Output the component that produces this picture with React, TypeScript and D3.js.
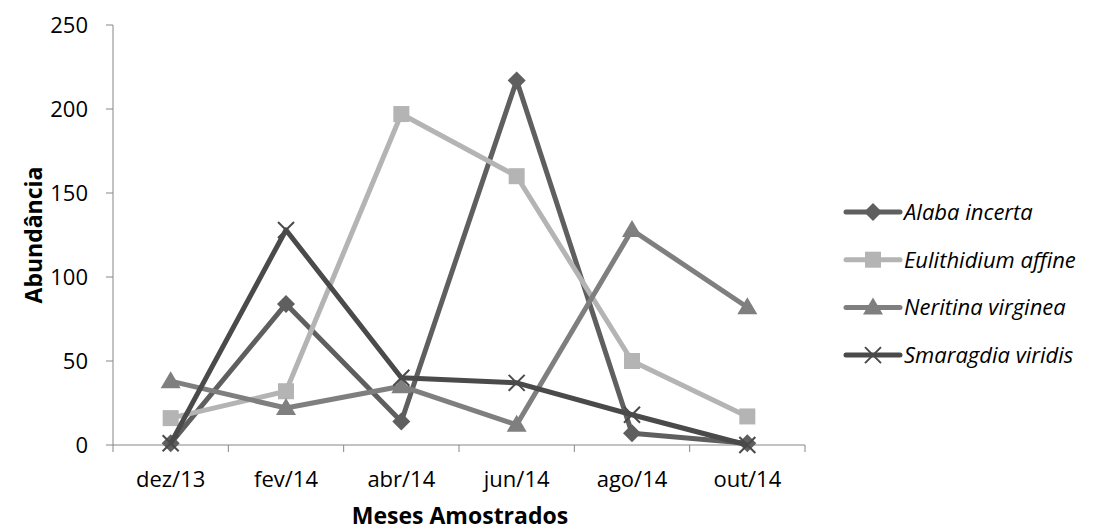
import React from "react";
import * as d3 from "d3";

const months = ["dez/13", "fev/14", "abr/14", "jun/14", "ago/14", "out/14"];
const alaba = [1, 84, 14, 217, 7, 1];
const eulithidium = [16, 32, 197, 160, 50, 17];
const neritina = [38, 22, 35, 12, 128, 82];
const smaragdia = [1, 128, 40, 37, 18, 0];
const yTicks = [0, 50, 100, 150, 200, 250];

const seriesNames = ["Alaba incerta", "Eulithidium affine", "Neritina virginea", "Smaragdia viridis"];
const seriesValues = [alaba, eulithidium, neritina, smaragdia];
const seriesColors = ["#5f5f5f", "#b4b4b4", "#7f7f7f", "#4a4a4a"];
const seriesMarkers = ["diamond", "square", "triangle", "x"];

const FONT = "'Open Sans', 'Liberation Sans', sans-serif";

function Marker({ type, x, y, color }: { type: string; x: number; y: number; color: string }) {
  if (type === "diamond") {
    return <path d={`M${x},${y - 9} L${x + 9},${y} L${x},${y + 9} L${x - 9},${y} Z`} fill={color} />;
  }
  if (type === "square") {
    return <rect x={x - 8} y={y - 8} width={16} height={16} fill={color} />;
  }
  if (type === "triangle") {
    return <path d={`M${x},${y - 10} L${x + 10},${y + 7} L${x - 10},${y + 7} Z`} fill={color} />;
  }
  return (
    <path d={`M${x - 8},${y - 8} L${x + 8},${y + 8} M${x - 8},${y + 8} L${x + 8},${y - 8}`} stroke={color} strokeWidth={2} fill="none" />
  );
}

export default function App() {
  const width = 1097;
  const height = 532;
  const left = 113;
  const right = 805;
  const top = 25;
  const bottom = 445;

  const x = d3.scaleBand<string>().domain(months).range([left, right]);
  const y = d3.scaleLinear().domain([0, 250]).range([bottom, top]);
  const cx = (m: string) => (x(m) as number) + x.bandwidth() / 2;

  const line = d3
    .line<number>()
    .x((_, i) => cx(months[i]))
    .y((v) => y(v));

  const tickXs = months.map((m) => x(m) as number).concat([right]);

  return (
    <svg width={width} height={height} style={{ position: "absolute", left: 0, top: 0 }}>
      <rect width={width} height={height} fill="#fff" />
      <line x1={left} x2={left} y1={top} y2={bottom} stroke="#868686" strokeWidth={1} />
      <line x1={left} x2={right} y1={bottom} y2={bottom} stroke="#868686" strokeWidth={1} />
      {yTicks.map((t) => (
        <g key={t}>
          <line x1={left - 7} x2={left} y1={y(t)} y2={y(t)} stroke="#868686" />
          <text x={88} y={y(t)} dy="0.36em" textAnchor="end" fontFamily={FONT} fontSize={22} fill="#000">
            {t}
          </text>
        </g>
      ))}
      {tickXs.map((tx, i) => (
        <line key={i} x1={tx} x2={tx} y1={bottom} y2={bottom + 7} stroke="#868686" />
      ))}
      {months.map((m) => (
        <text key={m} x={cx(m)} y={487} textAnchor="middle" fontFamily={FONT} fontSize={22} fill="#000">
          {m}
        </text>
      ))}
      <text x={460} y={524} textAnchor="middle" fontFamily={FONT} fontSize={23} fontWeight="bold" fill="#000">
        Meses Amostrados
      </text>
      <text
        transform={`translate(42,235) rotate(-90)`}
        textAnchor="middle"
        fontFamily={FONT}
        fontSize={23}
        fontWeight="bold"
        fill="#000"
      >
        Abundância
      </text>
      {seriesValues.map((vals, si) => (
        <g key={si}>
          <path d={line(vals) || ""} fill="none" stroke={seriesColors[si]} strokeWidth={5} strokeLinejoin="round" />
          {vals.map((v, i) => (
            <Marker key={i} type={seriesMarkers[si]} x={cx(months[i])} y={y(v)} color={seriesColors[si]} />
          ))}
        </g>
      ))}
      {seriesNames.map((name, si) => {
        const ly = 212 + si * 47.7;
        return (
          <g key={name}>
            <line x1={846} x2={900} y1={ly} y2={ly} stroke={seriesColors[si]} strokeWidth={5} strokeLinecap="round" />
            <Marker type={seriesMarkers[si]} x={873} y={ly} color={seriesColors[si]} />
            <text x={904} y={ly} dy="0.36em" fontFamily={FONT} fontSize={22} fontStyle="italic" fill="#000">
              {name}
            </text>
          </g>
        );
      })}
    </svg>
  );
}
